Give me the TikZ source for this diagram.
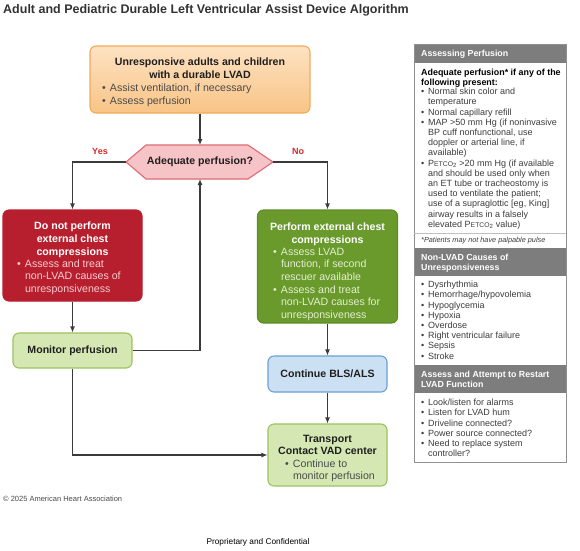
\documentclass[tikz,border=0pt]{standalone}
\usepackage{fontspec}
\setmainfont{Liberation Sans}
\usetikzlibrary{arrows.meta}
\definecolor{titlec}{HTML}{333333}
\definecolor{hdrc}{HTML}{1F1F1F}
\definecolor{bodyc}{HTML}{4A4A4A}
\definecolor{orangetop}{HTML}{FDE2C2}
\definecolor{orangebot}{HTML}{F9C486}
\definecolor{orangeb}{HTML}{F3A95B}
\definecolor{hexfill}{HTML}{F6C3C6}
\definecolor{hexb}{HTML}{DE6A74}
\definecolor{redf}{HTML}{B81F2E}
\definecolor{pinktxt}{HTML}{F6CDD1}
\definecolor{greenf}{HTML}{699A2B}
\definecolor{greenb}{HTML}{5F8C27}
\definecolor{greentxt}{HTML}{E3EFD0}
\definecolor{lgreenf}{HTML}{D5E8B3}
\definecolor{lgreenb}{HTML}{9CC261}
\definecolor{bluef}{HTML}{CBE0F3}
\definecolor{blueb}{HTML}{6C9FD3}
\definecolor{yesno}{HTML}{D42A2A}
\definecolor{arrowc}{HTML}{3A3A3A}
\definecolor{panelh}{HTML}{7D7D7D}
\definecolor{panelb}{HTML}{8F8F8F}
\definecolor{panelt}{HTML}{3C3C3C}
\newcommand\bxf{\fontsize{10.6}{12.5}\selectfont}
\newcommand\pnf{\fontsize{9}{10.2}\selectfont}
\newcommand\bul{\makebox[8pt][l]{\textbullet}}
\newcommand\ind{\hspace*{8pt}}
\newcommand\pbul{\makebox[7pt][l]{\textbullet}}
\newcommand\pind{\hspace*{7pt}}
\newcommand\petco{P{\fontsize{6.8}{8}\selectfont ETCO}\textsubscript{2}}
\begin{document}
\begin{tikzpicture}[x=1pt,y=-1pt,
  box/.style={rounded corners=6pt, line width=1.1pt, inner sep=0pt},
  conn/.style={draw=arrowc, line width=1.1pt},
  arr/.style={conn, -{Latex[length=6pt,width=5pt]}},
  lbl/.style={font=\bfseries\fontsize{9}{10}\selectfont, text=yesno, inner sep=0pt},
  ptext/.style={anchor=north west, inner sep=0pt, align=left, font=\pnf, text=panelt},
  phead/.style={anchor=north west, inner sep=0pt, align=left, font=\fontsize{8.8}{10.2}\selectfont\bfseries, text=white},
  pband/.style={fill=panelh, draw=none}]
\useasboundingbox (0,0) rectangle (580,550);
\fill[white] (0,0) rectangle (580,550);

% title
\node[anchor=west, inner sep=0pt, text=titlec, font=\bfseries\fontsize{12.5}{14}\selectfont] (title) at (3,10) {Adult and Pediatric Durable Left Ventricular Assist Device Algorithm};

% top box
\node[box, draw=orangeb, top color=orangetop, bottom color=orangebot, minimum width=220pt, minimum height=67pt] (top) at (200,79.5)
 {\parbox{196pt}{\vspace*{6pt}\bxf\centering\bfseries\color{hdrc}Unresponsive adults and children\\with a durable LVAD\par\vspace{1pt}\raggedright\mdseries\color{bodyc}\bul Assist ventilation, if necessary\\\bul Assess perfusion}};

% hexagon
\coordinate (hl) at (126,162);
\coordinate (hr) at (273,162);
\coordinate (ht) at (200,145);
\coordinate (hb) at (200,179);
\draw[fill=hexfill, draw=hexb, line width=1.1pt] (hl) -- (146,145) -- (248,145) -- (hr) -- (248,179) -- (146,179) -- cycle;
\node[inner sep=0pt, font=\bxf\bfseries, text=hdrc] (adq) at (200,162) {Adequate perfusion?};
\node[lbl] (yes) at (100,151) {Yes};
\node[lbl] (no) at (298,151) {No};

% red box
\node[box, draw=redf, fill=redf, minimum width=139pt, minimum height=91pt] (red) at (72.5,255.5)
 {\parbox{111pt}{\vspace*{6pt}\bxf\centering\bfseries\color{white}Do not perform\\external chest\\compressions\par\raggedright\mdseries\color{pinktxt}\bul Assess and treat\\\ind non-LVAD causes of\\\ind unresponsiveness}};

% green box
\node[box, draw=greenb, fill=greenf, minimum width=140pt, minimum height=113pt] (grn) at (327.5,266.5)
 {\parbox{134pt}{\vspace*{10pt}\bxf\centering\bfseries\color{white}Perform external chest\\compressions\par\raggedright\leftskip=12.5pt\mdseries\color{greentxt}\bul Assess LVAD\\\ind function, if second\\\ind rescuer available\\\bul Assess and treat\\\ind non-LVAD causes for\\\ind unresponsiveness\par}};

% monitor
\node[box, draw=lgreenb, fill=lgreenf, minimum width=119pt, minimum height=35pt, font=\bxf\bfseries, text=hdrc] (mon) at (72.5,350.5) {Monitor perfusion};

% blue
\node[box, draw=blueb, fill=bluef, minimum width=119pt, minimum height=36pt, font=\bxf\bfseries, text=hdrc] (blu) at (327.5,374) {Continue BLS/ALS};

% transport
\node[box, draw=lgreenb, fill=lgreenf, minimum width=119pt, minimum height=62pt] (trn) at (327.5,455)
 {\parbox{115pt}{\vspace*{7pt}\bxf\centering\bfseries\color{hdrc}Transport\\Contact VAD center\par\raggedright\leftskip=15pt\mdseries\color{bodyc}\bul Continue to\\\ind monitor perfusion\par}};

% connectors
\draw[arr] (top.south) -- (ht);
\draw[arr] (hl) -| (red.north);
\draw[arr] (hr) -| (grn.north);
\draw[arr] (red.south) -- (mon.north);
\draw[arr] (mon.east) -| (hb);
\draw[arr] (grn.south) -- (blu.north);
\draw[arr] (blu.south) -- (trn.north);
\draw[arr] (mon.south) |- (trn.west);

% right panel
\fill[white] (414,44) rectangle (566,462);
\fill[pband] (414,44) rectangle (566,63);
\fill[pband] (414,248) rectangle (566,276);
\fill[pband] (414,365) rectangle (566,393);
\draw[panelb, line width=0.8pt] (414,44) rectangle (566,462);
\draw[gray!50, line width=0.6pt] (414,233) -- (566,233);

\node[phead] (h1) at (421,50) {Assessing Perfusion};
\node[ptext, font=\fontsize{8.9}{9.5}\selectfont\bfseries, text=black] (b1a) at (421,69) {Adequate perfusion* if any of the\\following present:};
\node[ptext] (b1b) at (421,88) {\pbul Normal skin color and\\\pind temperature\\\pbul Normal capillary refill\\\pbul MAP >50 mm Hg (if noninvasive\\\pind BP cuff nonfunctional, use\\\pind doppler or arterial line, if\\\pind available)\\\pbul \petco{} >20 mm Hg (if available\\\pind and should be used only when\\\pind an ET tube or tracheostomy is\\\pind used to ventilate the patient;\\\pind use of a supraglottic [eg, King]\\\pind airway results in a falsely\\\pind elevated \petco{} value)};
\node[ptext, font=\itshape\fontsize{7.3}{9}\selectfont] (fn) at (421,237) {*Patients may not have palpable pulse};

\node[phead] (h2) at (421,254) {Non-LVAD Causes of\\Unresponsiveness};
\node[ptext] (b2) at (421,281) {\pbul Dysrhythmia\\\pbul Hemorrhage/hypovolemia\\\pbul Hypoglycemia\\\pbul Hypoxia\\\pbul Overdose\\\pbul Right ventricular failure\\\pbul Sepsis\\\pbul Stroke};

\node[phead] (h3) at (421,371) {Assess and Attempt to Restart\\LVAD Function};
\node[ptext] (b3) at (421,399) {\pbul Look/listen for alarms\\\pbul Listen for LVAD hum\\\pbul Driveline connected?\\\pbul Power source connected?\\\pbul Need to replace system\\\pind controller?};

% footer
\node[anchor=west, inner sep=0pt, text=bodyc, font=\fontsize{7.5}{8}\selectfont] (copy) at (3,499) {© 2025 American Heart Association};
\node[inner sep=0pt, text=black, font=\fontsize{8.3}{9}\selectfont] (prop) at (258,542) {Proprietary and Confidential};
\end{tikzpicture}
\end{document}
